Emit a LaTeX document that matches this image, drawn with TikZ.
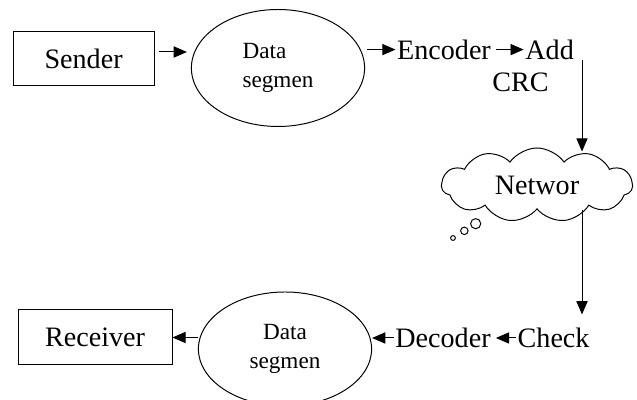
\documentclass[tikz,border=0pt]{standalone}
\usepackage{fontspec}
\setmainfont{Liberation Serif}
\usetikzlibrary{arrows.meta,shapes.geometric,shapes.symbols,shapes.callouts}

\begin{document}
\begin{tikzpicture}[x=1cm,y=1cm,
  box/.style={draw,line width=0.7pt,font=\fontsize{20}{24}\selectfont},
  oval/.style={draw,ellipse,line width=0.7pt,inner sep=0pt,minimum width=4.33cm,font=\fontsize{16.5}{21}\selectfont},
  word/.style={inner sep=1pt,font=\fontsize{20}{24}\selectfont},
  flow/.style={line width=0.7pt,-{Triangle[length=0.33cm,width=0.28cm]}}]
\path[use as bounding box] (0,0) rectangle (15.925,10);
% sender side
\node[box,minimum width=3.525cm,minimum height=1.35cm] (sender) at (2.09,8.525) {Sender};
\node[oval,minimum height=2.925cm,align=left] (seg1) at (6.95,8.30) {Data\\segmen};
\node[word] (encoder) at (11.10,8.76) {Encoder};
\node[word] (add) at (13.74,8.76) {Add};
\node[word] (crc) at (13.01,7.95) {CRC};
\coordinate (crcout) at (14.55,8.50);
% network
\node[draw,line width=0.7pt,cloud callout,cloud puffs=11,cloud puff arc=110,cloud ignores aspect,
  minimum width=4.775cm,minimum height=1.85cm,
  callout absolute pointer={(11.325,4.05)},callout pointer start size=0.32cm,
  callout pointer end size=0.12cm,callout pointer segments=3,
  font=\fontsize{20}{24}\selectfont] (net) at (13.425,5.375) {Networ};
% receiver side
\node[word] (check) at (13.84,1.55) {Check};
\node[word] (decoder) at (11.075,1.55) {Decoder};
\node[oval,minimum height=2.85cm,align=center] (seg2) at (7.125,1.275) {Data\\segmen};
\node[box,minimum width=3.85cm,minimum height=1.375cm] (receiver) at (2.375,1.5625) {Receiver};
% connectors
\draw[flow,shorten <=0.1cm,shorten >=0.1cm] ([yshift=0.175cm]sender.east) -- ([yshift=0.175cm]sender.east -| seg1.west);
\draw[flow,shorten <=0.05cm] (encoder.west -| seg1.east) -- (encoder.west);
\draw[flow,shorten <=0.08cm] (encoder.east) -- (add.west);
\draw[flow,shorten >=-0.1cm] (crcout) -- (crcout |- net.north);
\draw[flow,shorten >=0.3cm] (crcout |- net.south) -- (crcout |- check.north);
\draw[flow,shorten >=0.09cm] (check.west) -- (decoder.east);
\draw[flow] (decoder.west) -- (decoder.west -| seg2.east);
\draw[flow] (receiver.east -| seg2.west) -- (receiver.east);
\end{tikzpicture}
\end{document}
